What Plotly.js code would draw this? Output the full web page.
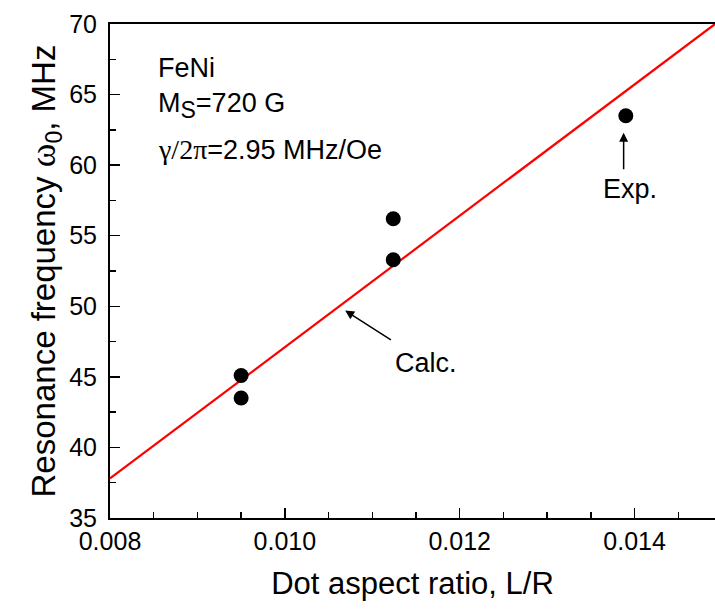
<!DOCTYPE html>
<html>
<head>
<meta charset="utf-8">
<script src="https://cdn.plot.ly/plotly-3.0.1.min.js"></script>
<style>html,body{margin:0;padding:0;background:#fff;}</style>
</head>
<body>
<div id="chart" style="width:715px;height:614px;"></div>
<script>
// Experimental points
const xExp = [0.0095, 0.0095, 0.01124, 0.01124, 0.0139];
const yExp = [45.1, 43.5, 56.2, 53.3, 63.5];
// Calculated line
const xCalc = [0.008, 0.01492];
const yCalc = [37.8, 70];
// Axis ticks
const xTicks = [0.008, 0.010, 0.012, 0.014];
const xTickLabels = ["0.008", "0.010", "0.012", "0.014"];
const yTicks = [35, 40, 45, 50, 55, 60, 65, 70];

const FONT = "Liberation Sans, Arial, Helvetica, sans-serif";
const SERIF = "Liberation Serif, Times New Roman, serif";

const traces = [
  {x: xCalc, y: yCalc, mode: "lines", type: "scatter",
   line: {color: "#ff0000", width: 2.2}, hoverinfo: "none"},
  {x: xExp, y: yExp, mode: "markers", type: "scatter",
   marker: {color: "#000", size: 15}, hoverinfo: "none"}
];

const layout = {
  width: 715, height: 614,
  margin: {l: 109.5, r: 0, t: 24, b: 96},
  paper_bgcolor: "#fff", plot_bgcolor: "#fff",
  showlegend: false,
  font: {family: FONT, color: "#000", size: 24},
  xaxis: {
    range: [0.008, 0.01492],
    tickvals: xTicks, ticktext: xTickLabels,
    ticks: "inside", ticklen: 10, tickwidth: 1.5, tickcolor: "#000",
    minor: {dtick: 0.0005, ticks: "inside", ticklen: 6, tickwidth: 1.5, tickcolor: "#000"},
    showline: true, linecolor: "#000", linewidth: 2, mirror: true,
    showgrid: false, zeroline: false,
    tickfont: {family: FONT, size: 25, color: "#000"},
    ticklabelstandoff: 0,
    title: {text: "Dot aspect ratio, L/R", font: {family: FONT, size: 31, color: "#000"}, standoff: 18}
  },
  yaxis: {
    range: [35, 70],
    tickvals: yTicks,
    ticks: "inside", ticklen: 10, tickwidth: 1.5, tickcolor: "#000",
    minor: {dtick: 2.5, ticks: "inside", ticklen: 6, tickwidth: 1.5, tickcolor: "#000"},
    showline: true, linecolor: "#000", linewidth: 2,
    showgrid: false, zeroline: false,
    tickfont: {family: FONT, size: 25, color: "#000"},
    ticklabelstandoff: 6,
    title: {text: "Resonance frequency <span style=\"font-family:" + SERIF + ";font-size:36px\">ω</span><sub>0</sub>, MHz",
            font: {family: FONT, size: 33, color: "#000"}, standoff: 4}
  },
  annotations: [
    {x: 0.00853, y: 66.9, xref: "x", yref: "y", text: "FeNi", showarrow: false,
     xanchor: "left", yanchor: "middle", font: {family: FONT, size: 27, color: "#000"}},
    {x: 0.00853, y: 64.2, xref: "x", yref: "y", text: "M<sub><span style=\"font-size:23px\">S</span></sub>=720 G", showarrow: false,
     xanchor: "left", yanchor: "middle", font: {family: FONT, size: 27, color: "#000"}},
    {x: 0.00853, y: 61.1, xref: "x", yref: "y",
     text: "<span style=\"font-family:" + SERIF + ";font-size:28px\">γ/2π</span>=2.95 MHz/Oe", showarrow: false,
     xanchor: "left", yanchor: "middle", font: {family: FONT, size: 27, color: "#000"}},
    {x: 0.01162, y: 45.95, xref: "x", yref: "y", text: "Calc.", showarrow: false,
     xanchor: "center", yanchor: "middle", font: {family: FONT, size: 27, color: "#000"}},
    {x: 0.01395, y: 58.3, xref: "x", yref: "y", text: "Exp.", showarrow: false,
     xanchor: "center", yanchor: "middle", font: {family: FONT, size: 27, color: "#000"}},
    {x: 0.01069, y: 49.7, xref: "x", yref: "y", ax: 0.01123, ay: 47.55, axref: "x", ayref: "y",
     text: "", showarrow: true, arrowhead: 2, arrowsize: 1.2, arrowwidth: 1.5, arrowcolor: "#000", standoff: 0},
    {x: 0.013875, y: 62.3, xref: "x", yref: "y", ax: 0.013875, ay: 59.6, axref: "x", ayref: "y",
     text: "", showarrow: true, arrowhead: 2, arrowsize: 1.2, arrowwidth: 1.5, arrowcolor: "#000", standoff: 0}
  ]
};

Plotly.newPlot("chart", traces, layout, {staticPlot: true, displayModeBar: false});
</script>
</body>
</html>
